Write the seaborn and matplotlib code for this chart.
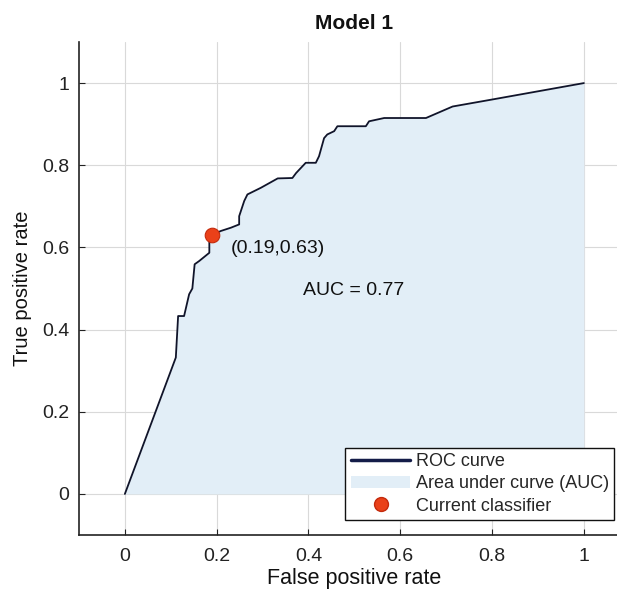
import matplotlib
matplotlib.use("Agg")
import matplotlib.pyplot as plt
import seaborn as sns
import pandas as pd
from matplotlib.lines import Line2D
from matplotlib.patches import Patch

# ROC curve points (false positive rate, true positive rate)
fpr = [0.0, 0.111, 0.116, 0.129, 0.140, 0.147, 0.152, 0.162, 0.184, 0.184,
       0.190, 0.209, 0.231, 0.249, 0.249, 0.260, 0.267, 0.296, 0.333, 0.365,
       0.373, 0.394, 0.416, 0.423, 0.434, 0.441, 0.456, 0.463, 0.525, 0.532,
       0.565, 0.656, 0.714, 0.80, 0.90, 1.0]
tpr = [0.0, 0.332, 0.433, 0.433, 0.486, 0.500, 0.559, 0.567, 0.587, 0.615,
       0.630, 0.640, 0.648, 0.656, 0.676, 0.713, 0.729, 0.745, 0.768, 0.769,
       0.781, 0.806, 0.806, 0.822, 0.866, 0.875, 0.883, 0.895, 0.895, 0.907,
       0.915, 0.915, 0.943, 0.960, 0.980, 1.0]

# Operating point of the current classifier
current_fpr = [0.19]
current_tpr = [0.63]
auc_value = 0.77

ticks = [0, 0.2, 0.4, 0.6, 0.8, 1]
tick_labels = ["0", "0.2", "0.4", "0.6", "0.8", "1"]

sns.set_theme(style="white")
plt.rcParams["font.family"] = ["Liberation Sans", "DejaVu Sans"]

fig = plt.figure(figsize=(6.17, 5.90), dpi=100)
ax = fig.add_axes([0.128, 0.0932, 0.8927, 0.8356])

roc = pd.DataFrame({"fpr": fpr, "tpr": tpr})
line_color = "#10142a"
fill_color = "#e2eef7"
dot_color = "#ea4119"

ax.fill_between(roc["fpr"], roc["tpr"], 0, color=fill_color, linewidth=0, zorder=1)
sns.lineplot(data=roc, x="fpr", y="tpr", sort=False, estimator=None,
             color=line_color, linewidth=1.3, ax=ax, zorder=3)
sns.scatterplot(x=current_fpr, y=current_tpr, color=dot_color, edgecolor="#c42a0c",
                linewidth=0.8, s=110, ax=ax, zorder=4)

ax.text(0.231, 0.597, f"({current_fpr[0]:.2f},{current_tpr[0]:.2f})",
        fontsize=14, va="center", ha="left", color="#111111", zorder=5)
ax.text(0.387, 0.496, f"AUC = {auc_value:.2f}",
        fontsize=14, va="center", ha="left", color="#111111", zorder=5)

ax.set_xlim(-0.1, 1.1)
ax.set_ylim(-0.1, 1.1)
ax.set_xticks(ticks)
ax.set_xticklabels(tick_labels)
ax.set_yticks(ticks)
ax.set_yticklabels(tick_labels)
ax.tick_params(axis="both", direction="in", length=4, width=0.8, colors="#222222",
               labelsize=14, left=True, bottom=True)
ax.tick_params(axis="y", pad=7)
ax.tick_params(axis="x", pad=9)
ax.grid(True, color="#d9d9d9", linewidth=0.8)
ax.set_axisbelow(True)

for side in ["top", "right"]:
    ax.spines[side].set_visible(False)
for side in ["left", "bottom"]:
    ax.spines[side].set_color("#222222")
    ax.spines[side].set_linewidth(1.2)

ax.set_xlabel("False positive rate", fontsize=15.5, labelpad=2.5, color="#111111")
ax.set_ylabel("True positive rate", fontsize=14.5, labelpad=7, color="#111111")
fig.text(0.574, 0.961, "Model 1", fontsize=15, fontweight="bold",
         ha="center", va="center", color="#111111")

handles = [
    Line2D([0], [0], color="#141c48", linewidth=2.5),
    Patch(facecolor=fill_color, edgecolor="none"),
    Line2D([0], [0], marker="o", linestyle="none", markersize=10,
           markerfacecolor=dot_color, markeredgecolor="#c42a0c"),
]
labels = ["ROC curve", "Area under curve (AUC)", "Current classifier"]
leg = ax.legend(handles, labels, loc="lower right", bbox_to_anchor=(0.972, 0.03),
                fontsize=13, frameon=True, fancybox=False, framealpha=1,
                edgecolor="#111111", borderpad=0.3, labelspacing=0.3,
                handlelength=3.3, handletextpad=0.3, borderaxespad=0)
leg.get_frame().set_linewidth(1.0)

fig.savefig("out.png", dpi=100)
